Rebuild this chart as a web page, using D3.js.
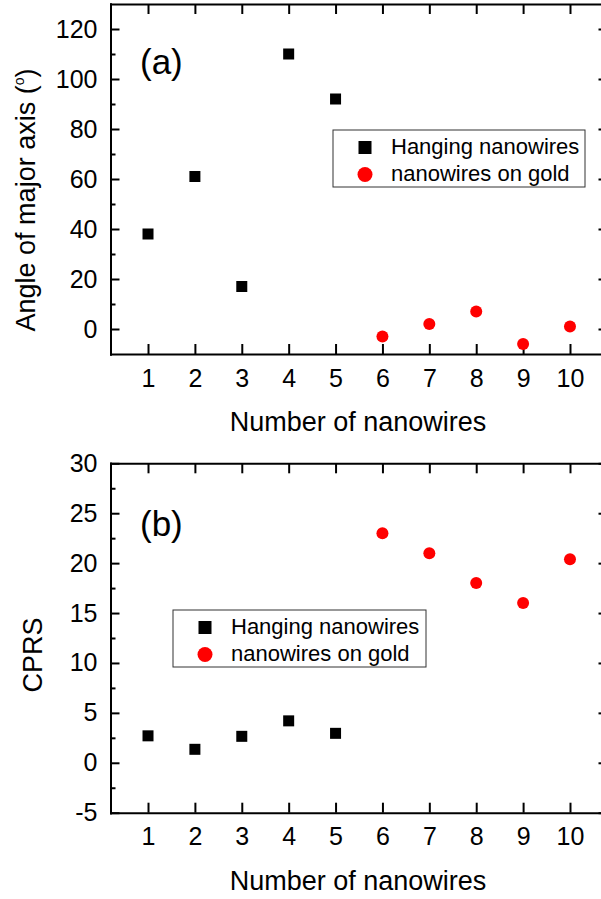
<!DOCTYPE html>
<html>
<head>
<meta charset="utf-8">
<script src="https://d3js.org/d3.v7.min.js"></script>
<style>
  body { margin: 0; background: #fff; }
  svg { display: block; font-family: "Liberation Sans", Arial, sans-serif; }
</style>
</head>
<body>
<div id="chart"></div>
<script>
// Data
const hangingWires = [1, 2, 3, 4, 5];
const goldWires = [6, 7, 8, 9, 10];
const angleHanging = [38, 61, 17, 110, 92];
const angleGold = [-3, 2, 7, -6, 1];
const cprsHanging = [2.7, 1.35, 2.65, 4.2, 2.95];
const cprsGold = [23, 21, 18, 16, 20.4];

const xTicks = [1, 2, 3, 4, 5, 6, 7, 8, 9, 10];
const angleTicks = [0, 20, 40, 60, 80, 100, 120];
const angleMinor = [10, 30, 50, 70, 90, 110];
const cprsTicks = [-5, 0, 5, 10, 15, 20, 25, 30];
const cprsMinor = [-2.5, 2.5, 7.5, 12.5, 17.5, 22.5, 27.5];

const legendNames = ["Hanging nanowires", "nanowires on gold"];

const width = 601, height = 899;

const svg = d3.select('#chart')
    .append('svg')
    .attr('width', width)
    .attr('height', height);

// x scale is shared by both panels
const x = d3.scaleLinear().domain([0.2, 10.8]).range([110.5, 607.5]);

// plain hyphen for negatives, like the original
const plain = d => String(d);

function drawPanel(opts) {
    const y = d3.scaleLinear().domain(opts.yDomain).range([opts.bottom, opts.top]);
    const g = svg.append('g');

    // axes with inward ticks
    g.append('g')
        .attr('transform', `translate(${x.range()[0]},0)`)
        .call(d3.axisLeft(y).tickValues(opts.yTicks).tickFormat(plain).tickSizeInner(-9).tickSizeOuter(0).tickPadding(13));
    g.append('g')
        .attr('transform', `translate(${x.range()[0]},0)`)
        .call(d3.axisLeft(y).tickValues(opts.yMinor).tickSizeInner(-5).tickSizeOuter(0).tickFormat(''));
    g.append('g')
        .attr('transform', `translate(${x.range()[1]},0)`)
        .call(d3.axisRight(y).tickValues(opts.yTicks).tickSizeInner(-9).tickSizeOuter(0).tickFormat(''));
    g.append('g')
        .attr('transform', `translate(${x.range()[1]},0)`)
        .call(d3.axisRight(y).tickValues(opts.yMinor).tickSizeInner(-5).tickSizeOuter(0).tickFormat(''));
    g.append('g')
        .attr('transform', `translate(0,${opts.bottom})`)
        .call(d3.axisBottom(x).tickValues(xTicks).tickFormat(plain).tickSizeInner(-10).tickSizeOuter(0).tickPadding(15));
    g.append('g')
        .attr('transform', `translate(0,${opts.top})`)
        .call(d3.axisTop(x).tickValues(xTicks).tickSizeInner(-10).tickSizeOuter(0).tickFormat(''));

    g.selectAll('.domain').attr('stroke', '#000').attr('stroke-width', 2).attr('stroke-linecap', 'square');
    g.selectAll('.tick line').attr('stroke', '#000').attr('stroke-width', 2);
    g.selectAll('.tick text').attr('fill', '#000').style('font-size', '25px').style('font-family', '"Liberation Sans", Arial, sans-serif');

    // points
    g.selectAll('.sq')
        .data(opts.hanging)
        .enter()
        .append('rect')
        .attr('class', 'sq')
        .attr('x', (d, i) => x(hangingWires[i]) - 5.5)
        .attr('y', d => y(d) - 5.5)
        .attr('width', 11)
        .attr('height', 11)
        .attr('fill', '#000');
    g.selectAll('.dot')
        .data(opts.gold)
        .enter()
        .append('circle')
        .attr('class', 'dot')
        .attr('cx', (d, i) => x(goldWires[i]))
        .attr('cy', d => y(d))
        .attr('r', 6)
        .attr('fill', '#ff0000');

    // panel label
    g.append('text')
        .attr('x', 140)
        .attr('y', opts.labelY)
        .style('font-size', '35px')
        .text(opts.label);

    // axis titles
    g.append('text')
        .attr('x', 358)
        .attr('y', opts.bottom + 77)
        .attr('text-anchor', 'middle')
        .style('font-size', '27px')
        .text('Number of nanowires');

    const yt = g.append('text')
        .attr('transform', `translate(${opts.titleX},${opts.titleY}) rotate(-90)`)
        .attr('text-anchor', 'middle')
        .style('font-size', '27px')
        .text(opts.yTitle);
    if (opts.degree) {
        yt.append('tspan').text(' (');
        yt.append('tspan').attr('dy', -11).style('font-size', '14px').text('o');
        yt.append('tspan').attr('dy', 11).text(')');
    }

    // legend
    const lg = g.append('g').attr('transform', `translate(${opts.legend[0]},${opts.legend[1]})`);
    lg.append('rect')
        .attr('width', opts.legend[2])
        .attr('height', 57)
        .attr('fill', '#fff')
        .attr('stroke', '#333')
        .attr('stroke-width', 1);
    lg.append('rect')
        .attr('x', 32 - 6.5).attr('y', 17.5 - 6.5)
        .attr('width', 13).attr('height', 13)
        .attr('fill', '#000');
    lg.append('circle')
        .attr('cx', 32).attr('cy', 44.5).attr('r', 7.5)
        .attr('fill', '#ff0000');
    lg.selectAll('.lt')
        .data(legendNames)
        .enter()
        .append('text')
        .attr('class', 'lt')
        .attr('x', 58)
        .attr('y', (d, i) => 24 + i * 27)
        .style('font-size', '22px')
        .text(d => d);
}

drawPanel({
    yDomain: [-10, 130], top: 4, bottom: 354,
    yTicks: angleTicks, yMinor: angleMinor,
    hanging: angleHanging, gold: angleGold,
    label: '(a)', labelY: 74,
    yTitle: 'Angle of major axis', degree: true, titleX: 35, titleY: 200,
    legend: [333, 130, 252]
});

drawPanel({
    yDomain: [-5, 30], top: 463.3, bottom: 812.7,
    yTicks: cprsTicks, yMinor: cprsMinor,
    hanging: cprsHanging, gold: cprsGold,
    label: '(b)', labelY: 536,
    yTitle: 'CPRS', degree: false, titleX: 42, titleY: 655,
    legend: [173, 610, 253]
});
</script>
</body>
</html>
